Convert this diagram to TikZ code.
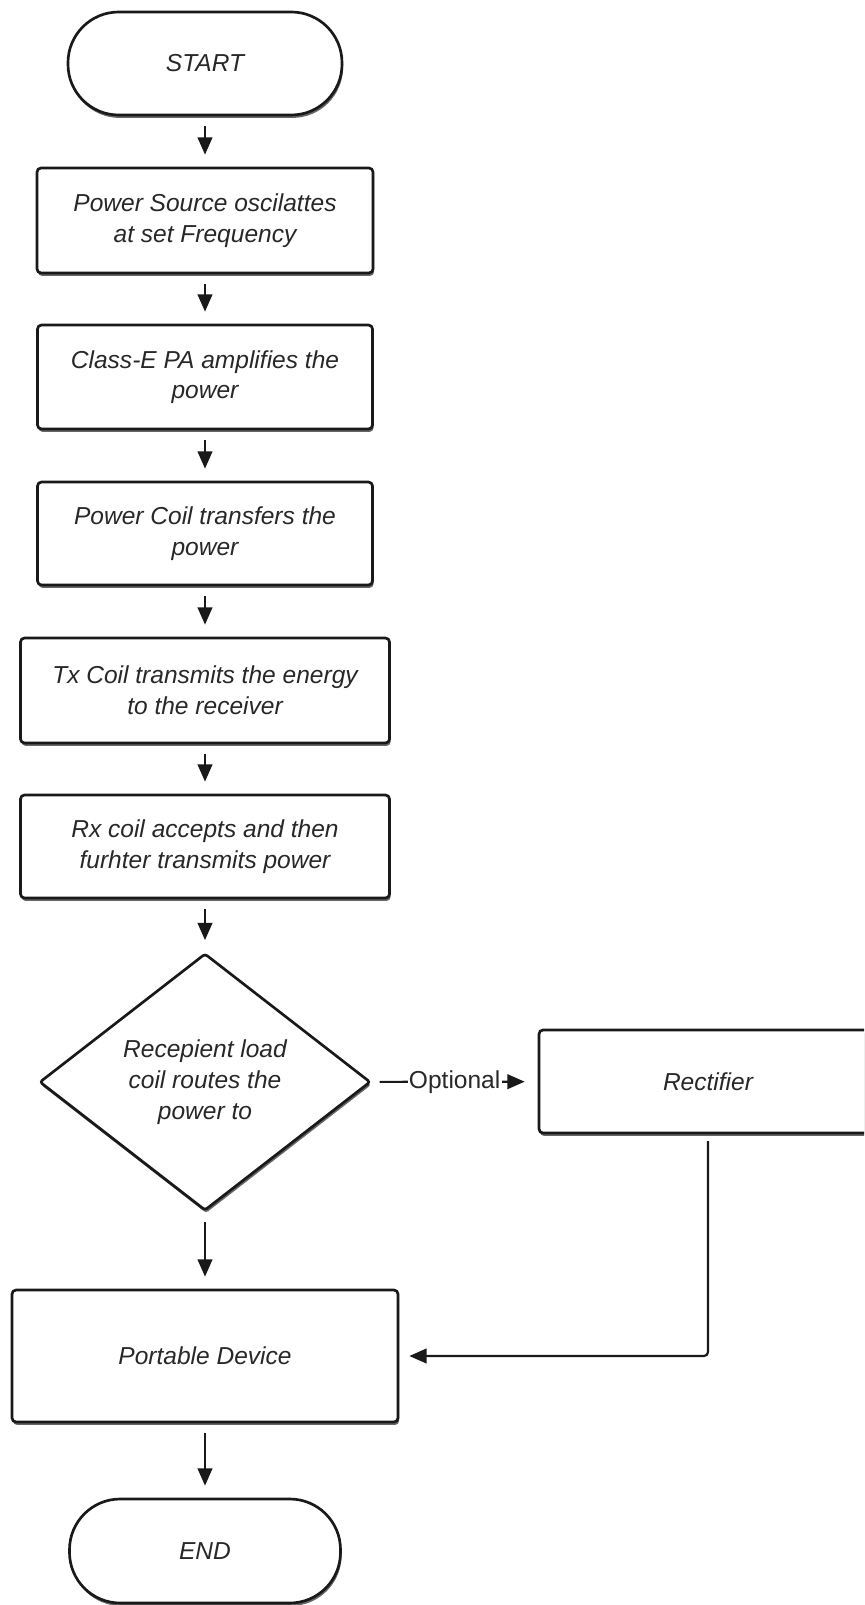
\documentclass[tikz,border=0pt]{standalone}
\usepackage{fontspec}
\setmainfont{Liberation Sans}
\usetikzlibrary{shapes.geometric,shadows,arrows.meta}
\definecolor{ink}{RGB}{25,25,25}
\definecolor{txt}{RGB}{40,40,40}
\tikzset{
  boxbase/.style={draw=ink, line width=2pt, fill=white, inner sep=0pt, align=center, text=txt,
    font=\fontsize{18.4pt}{23pt}\selectfont\itshape,
    drop shadow={shadow xshift=0.8pt, shadow yshift=-2.2pt, opacity=0.6, fill=black}},
  procbox/.style={boxbase, rectangle, rounded corners=3pt},
  termbox/.style={boxbase, rectangle, rounded corners=38pt},
  decbox/.style={boxbase, diamond, rounded corners=2pt},
  flow/.style={draw=ink, line width=1.6pt, -{Triangle[length=13pt,width=11pt]}, shorten <=7.5pt, shorten >=9pt},
  optlabel/.style={fill=white, inner sep=1pt, text=txt, font=\fontsize{18.4pt}{22pt}\selectfont},
}
\begin{document}
\begin{tikzpicture}[x=0.75pt,y=-0.75pt]
\useasboundingbox (0,0) rectangle (864,1605);
\clip (0,0) rectangle (864,1605);
\node[termbox, minimum width=205.5pt, minimum height=77.25pt] (start) at (205,63.5) {START};
\node[procbox, minimum width=252pt, minimum height=78.75pt] (ps) at (205,220.5) {Power Source oscilattes\\at set Frequency};
\node[procbox, minimum width=251.25pt, minimum height=78pt] (pa) at (205,377) {Class-E PA amplifies the\\power};
\node[procbox, minimum width=251.25pt, minimum height=77.25pt] (pc) at (205,533.5) {Power Coil transfers the\\power};
\node[procbox, minimum width=276.75pt, minimum height=78.75pt] (tx) at (205,690.5) {Tx Coil transmits the energy\\to the receiver};
\node[procbox, minimum width=276.75pt, minimum height=77.25pt] (rx) at (205,846.5) {Rx coil accepts and then\\furhter transmits power};
\node[decbox, minimum width=248.25pt, minimum height=192.75pt] (dec) at (205,1082) {Recepient load\\coil routes the\\power to};
\node[procbox, minimum width=253.5pt, minimum height=77.25pt] (rect) at (708,1081.5) {Rectifier};
\node[procbox, minimum width=289.5pt, minimum height=99pt] (port) at (205,1356) {Portable Device};
\node[termbox, minimum width=203.25pt, minimum height=78pt] (end) at (205,1551) {END};

\draw[flow] (start) -- (ps);
\draw[flow] (ps) -- (pa);
\draw[flow] (pa) -- (pc);
\draw[flow] (pc) -- (tx);
\draw[flow] (tx) -- (rx);
\draw[flow] (rx) -- (dec);
\draw[flow, shorten <=6pt, shorten >=9.75pt] (dec) -- node[optlabel] (optlbl) {Optional} (rect);
\draw[flow] (dec) -- (port);
\draw[flow, rounded corners=3pt, shorten <=5pt, shorten >=7.5pt] (rect.south) |- (port.east);
\draw[flow] (port) -- (end);
\end{tikzpicture}
\end{document}
